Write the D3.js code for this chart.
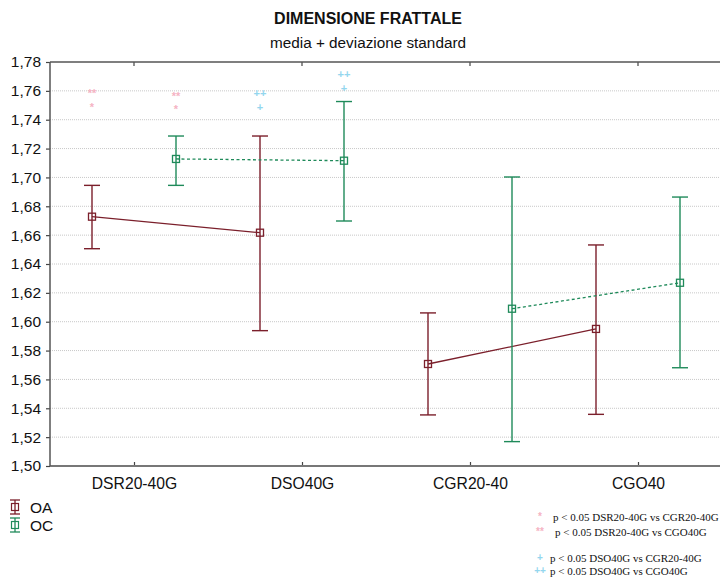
<!DOCTYPE html>
<html>
<head>
<meta charset="utf-8">
<script src="https://cdn.jsdelivr.net/npm/d3@7"></script>
<style>
  html, body { margin: 0; padding: 0; background: #fff; }
  svg { display: block; }
</style>
</head>
<body>
<svg id="chart" width="720" height="577"></svg>
<script>
// Groups on the x axis; the line joins points only within the same family
const categories = ["DSR20-40G", "DSO40G", "CGR20-40", "CGO40"];
const families   = ["DS", "DS", "CG", "CG"];
const seriesNames = ["OA", "OC"];

// Mean and mean ± SD for each series
const oaMean  = [1.6728, 1.6617, 1.5707, 1.5950];
const oaUpper = [1.6945, 1.7287, 1.6061, 1.6532];
const oaLower = [1.6506, 1.5938, 1.5354, 1.5358];

const ocMean  = [1.7128, 1.7116, 1.6090, 1.6270];
const ocUpper = [1.7287, 1.7526, 1.7003, 1.6864];
const ocLower = [1.6945, 1.6698, 1.5169, 1.5681];

// Y axis ticks
const yTicks = [1.50, 1.52, 1.54, 1.56, 1.58, 1.60, 1.62, 1.64, 1.66, 1.68, 1.70, 1.72, 1.74, 1.76, 1.78];

// Significance marks above the bars
const sigCategory = ["DSR20-40G", "DSR20-40G", "DSR20-40G", "DSR20-40G", "DSO40G", "DSO40G", "DSO40G", "DSO40G"];
const sigSeries   = ["OA", "OA", "OC", "OC", "OA", "OA", "OC", "OC"];
const sigSymbol   = ["**", "*", "**", "*", "++", "+", "++", "+"];
const sigValue    = [1.7585, 1.7488, 1.7564, 1.7474, 1.7585, 1.7488, 1.7717, 1.7620];

// Significance legend
const noteSymbol = ["*", "**", "+", "++"];
const noteText = [
  "p < 0.05 DSR20-40G vs CGR20-40G",
  "p < 0.05 DSR20-40G vs CGO40G",
  "p < 0.05 DSO40G vs CGR20-40G",
  "p < 0.05 DSO40G vs CGO40G"
];

const colors = { OA: "#7b1f2b", OC: "#1f8a5a" };
const sigColors = { "*": "#f5b3c3", "**": "#f5b3c3", "+": "#93d6ee", "++": "#93d6ee" };

const svg = d3.select("#chart");
const sans = "'Liberation Sans', Arial, sans-serif";
const serif = "'Liberation Serif', 'Times New Roman', serif";

const plotLeft = 50, plotTop = 62, plotBottom = 466, plotRight = 722;

const x = d3.scalePoint().domain(categories).range([plotLeft, plotRight]).padding(0.5);
const step = x.step();
const offset = d3.scalePoint().domain(seriesNames).range([-step / 4, step / 4]);
const y = d3.scaleLinear().domain([1.50, 1.78]).range([plotBottom, plotTop]);

// Title
svg.append("text").attr("x", 368).attr("y", 24).attr("text-anchor", "middle")
  .attr("font-family", sans).attr("font-weight", "bold").attr("font-size", 16)
  .attr("fill", "#111").text("DIMENSIONE FRATTALE");
svg.append("text").attr("x", 368).attr("y", 48).attr("text-anchor", "middle")
  .attr("font-family", sans).attr("font-size", 15.3)
  .attr("fill", "#111").text("media + deviazione standard");

// Dotted grid lines
svg.append("g").selectAll("line").data(yTicks.slice(1, -1)).join("line")
  .attr("x1", plotLeft).attr("x2", 720)
  .attr("y1", d => y(d)).attr("y2", d => y(d))
  .attr("stroke", "#c8c8c8").attr("stroke-width", 1).attr("stroke-dasharray", "1,1");

// Left axis
const yAxis = d3.axisLeft(y).tickValues(yTicks).tickSize(4).tickPadding(5)
  .tickFormat(d => d3.format(".2f")(d).replace(".", ","));
const gy = svg.append("g").attr("transform", `translate(${plotLeft},0)`).call(yAxis);
gy.select(".domain").remove();
gy.selectAll(".tick line").attr("stroke", "#444").attr("stroke-width", 1.2);
gy.selectAll(".tick text").attr("font-family", sans).attr("font-size", 15.5).attr("fill", "#111");

// Bottom axis
const xAxis = d3.axisBottom(x).tickSize(0).tickPadding(12);
const gx = svg.append("g").attr("transform", `translate(0,${plotBottom})`).call(xAxis);
gx.select(".domain").remove();
gx.selectAll(".tick text").attr("font-family", sans).attr("font-size", 15.7).attr("fill", "#111");
gx.selectAll(".tick").append("line").attr("y1", 0).attr("y2", -4)
  .attr("stroke", "#444").attr("stroke-width", 1.2);

// Top ticks
svg.append("g").selectAll("line").data(categories).join("line")
  .attr("x1", d => x(d)).attr("x2", d => x(d)).attr("y1", plotTop).attr("y2", plotTop + 4)
  .attr("stroke", "#444").attr("stroke-width", 1.2);

// Frame lines
svg.append("line").attr("x1", plotLeft).attr("x2", 720).attr("y1", plotTop).attr("y2", plotTop)
  .attr("stroke", "#555").attr("stroke-width", 1.5);
svg.append("line").attr("x1", plotLeft).attr("x2", 720).attr("y1", plotBottom).attr("y2", plotBottom)
  .attr("stroke", "#777").attr("stroke-width", 2);
svg.append("line").attr("x1", plotLeft).attr("x2", plotLeft).attr("y1", plotTop).attr("y2", plotBottom)
  .attr("stroke", "#555").attr("stroke-width", 1.5);

// Series
const series = [
  { name: "OA", mean: oaMean, upper: oaUpper, lower: oaLower, dash: null },
  { name: "OC", mean: ocMean, upper: ocUpper, lower: ocLower, dash: "3,2.5" }
];

const capHalf = 8, sq = 7;

series.forEach(s => {
  const pts = categories.map((c, i) => ({
    cx: x(c) + offset(s.name), m: s.mean[i], hi: s.upper[i], lo: s.lower[i], fam: families[i]
  }));
  const g = svg.append("g");
  const col = colors[s.name];

  // connecting lines, one per family
  const byFamily = d3.groups(pts, d => d.fam);
  g.selectAll("path").data(byFamily).join("path")
    .attr("d", ([, p]) => d3.line().x(d => d.cx).y(d => y(d.m))(p))
    .attr("fill", "none").attr("stroke", col).attr("stroke-width", 1.3)
    .attr("stroke-dasharray", s.dash);

  const bars = g.selectAll("g.bar").data(pts).join("g").attr("class", "bar");
  bars.append("line")
    .attr("x1", d => d.cx).attr("x2", d => d.cx)
    .attr("y1", d => y(d.hi)).attr("y2", d => y(d.lo))
    .attr("stroke", col).attr("stroke-width", 1.4);
  bars.append("line")
    .attr("x1", d => d.cx - capHalf).attr("x2", d => d.cx + capHalf)
    .attr("y1", d => y(d.hi)).attr("y2", d => y(d.hi))
    .attr("stroke", col).attr("stroke-width", 1.4);
  bars.append("line")
    .attr("x1", d => d.cx - capHalf).attr("x2", d => d.cx + capHalf)
    .attr("y1", d => y(d.lo)).attr("y2", d => y(d.lo))
    .attr("stroke", col).attr("stroke-width", 1.4);
  bars.append("rect")
    .attr("x", d => d.cx - sq / 2).attr("y", d => y(d.m) - sq / 2)
    .attr("width", sq).attr("height", sq)
    .attr("fill", "none").attr("stroke", col).attr("stroke-width", 1.3);
});

// Significance marks
svg.append("g").selectAll("text").data(sigSymbol).join("text")
  .attr("x", (d, i) => x(sigCategory[i]) + offset(sigSeries[i]))
  .attr("y", (d, i) => y(sigValue[i]) + 4)
  .attr("text-anchor", "middle")
  .attr("font-family", sans).attr("font-size", 11).attr("font-weight", "bold")
  .attr("fill", d => sigColors[d])
  .text(d => d);

// Series legend
const legend = svg.append("g");
seriesNames.forEach((n, i) => {
  const cy = 507 + i * 18, cx = 15, col = colors[n];
  const lg = legend.append("g");
  lg.append("line").attr("x1", cx).attr("x2", cx).attr("y1", cy - 7).attr("y2", cy + 7)
    .attr("stroke", col).attr("stroke-width", 1.3);
  lg.append("line").attr("x1", cx - 5).attr("x2", cx + 5).attr("y1", cy - 7).attr("y2", cy - 7)
    .attr("stroke", col).attr("stroke-width", 1.3);
  lg.append("line").attr("x1", cx - 5).attr("x2", cx + 5).attr("y1", cy + 7).attr("y2", cy + 7)
    .attr("stroke", col).attr("stroke-width", 1.3);
  lg.append("rect").attr("x", cx - 3.5).attr("y", cy - 3.5).attr("width", 7).attr("height", 7)
    .attr("fill", "none").attr("stroke", col).attr("stroke-width", 1.2);
  lg.append("text").attr("x", 30).attr("y", cy + 6)
    .attr("font-family", sans).attr("font-size", 15.5).attr("fill", "#111").text(n);
});

// Significance legend
const noteY = [521, 536, 562, 575];
const noteX = [553, 555, 550, 550];
const notes = svg.append("g");
noteText.forEach((t, i) => {
  notes.append("text").attr("x", 540).attr("y", noteY[i] - 1).attr("text-anchor", "middle")
    .attr("font-family", sans).attr("font-size", 10).attr("font-weight", "bold")
    .attr("fill", sigColors[noteSymbol[i]]).text(noteSymbol[i]);
  notes.append("text").attr("x", noteX[i]).attr("y", noteY[i])
    .attr("font-family", serif).attr("font-size", 11).attr("fill", "#111").text(t);
});
</script>
</body>
</html>
